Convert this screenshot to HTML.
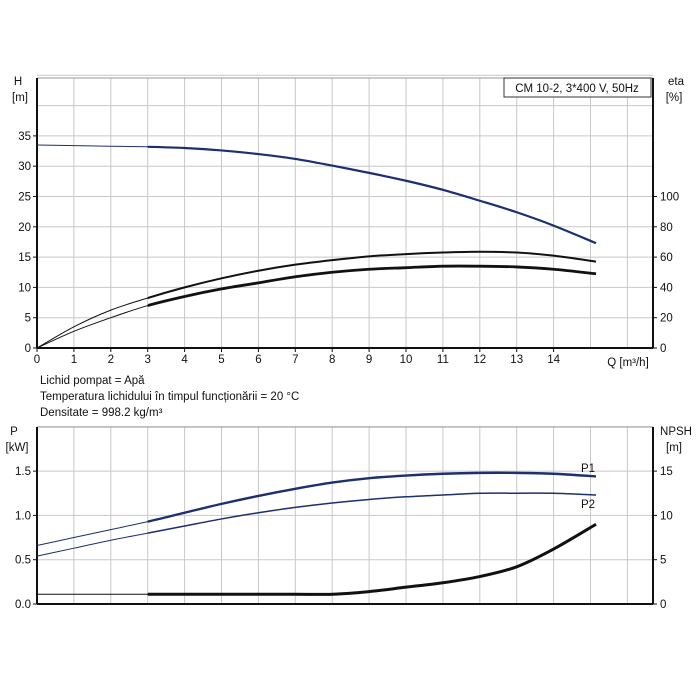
<!DOCTYPE html>
<html><head><meta charset="utf-8"><style>
body{margin:0;background:#fff;}
svg{display:block;font-family:"Liberation Sans",sans-serif;}
</style></head><body>
<svg id="chart" width="700" height="700">
<defs>
<clipPath id="clipLow"><rect x="0" y="0" width="148" height="700"/></clipPath>
<clipPath id="clipHigh"><rect x="147.7" y="0" width="560" height="700"/></clipPath>
</defs>
</svg>
<script>
// ---- data ----
const qTicks = [0,1,2,3,4,5,6,7,8,9,10,11,12,13,14];
const hTicks = [0,5,10,15,20,25,30,35];
const etaTicks = [0,20,40,60,80,100];
const pTicks = [0.0,0.5,1.0,1.5];
const npshTicks = [0,5,10,15];
const qPts = [0,1,2,3,4,5,6,7,8,9,10,11,12,13,14,15.15];
const headVals = [33.5,33.4,33.3,33.2,33.0,32.6,32.0,31.2,30.1,28.9,27.6,26.1,24.3,22.4,20.2,17.3];
const etaUpper = [0,14,25,33,40,46,51,55,58,60.5,62,63,63.5,63,61,57];
const etaLower = [0,11,20,28,34,39,43,47,50,52,53,54,54,53.5,52,49];
const p1Vals = [0.66,0.75,0.84,0.93,1.03,1.13,1.22,1.30,1.37,1.42,1.45,1.47,1.48,1.48,1.47,1.44];
const p2Vals = [0.54,0.63,0.72,0.80,0.88,0.96,1.03,1.09,1.14,1.18,1.21,1.23,1.25,1.25,1.25,1.23];
const npshVals = [1.1,1.1,1.1,1.1,1.1,1.1,1.1,1.1,1.1,1.4,1.9,2.4,3.1,4.2,6.2,9.0];

const NS='http://www.w3.org/2000/svg';
const svg=document.getElementById('chart');
const L=37,R=653,QU=36.9;
const xQ=q=>L+q*QU;
const T1=78,B1=348,yH=h=>B1-h*6.06,yEta=e=>B1-e*1.515;
const T2=427,B2=604,yP=p=>B2-p*88.6,yN=n=>B2-n*8.86;

function el(tag,attrs,parent){const e=document.createElementNS(NS,tag);for(const k in attrs)e.setAttribute(k,attrs[k]);(parent||svg).appendChild(e);return e;}
function txt(x,y,s,anchor,size){const t=el('text',{x:x,y:y,'font-size':size||11.5,'text-anchor':anchor||'start',fill:'#111'});t.textContent=s;return t;}
function pathD(xs,ys){
  const P=xs.map((x,i)=>[x,ys[i]]);
  let d='M'+P[0][0]+','+P[0][1];
  for(let i=0;i<P.length-1;i++){const p0=P[i-1]||P[i],p1=P[i],p2=P[i+1],p3=P[i+2]||P[i+1];
    const c1=[p1[0]+(p2[0]-p0[0])/6,p1[1]+(p2[1]-p0[1])/6],c2=[p2[0]-(p3[0]-p1[0])/6,p2[1]-(p3[1]-p1[1])/6];
    d+=' C'+c1+' '+c2+' '+p2;}
  return d;}
function curve(name,vals,yf,color,w0,w1){
  const d=pathD(qPts.map(xQ),vals.map(yf));
  let e=el('path',{d:d,fill:'none',stroke:color,'stroke-width':w0,'clip-path':'url(#clipLow)'});
  
  
  e=el('path',{d:d,fill:'none',stroke:color,'stroke-width':w1,'clip-path':'url(#clipHigh)'});
  
  
}
function grid(T,B,rows){
  for(let q=1;q*QU+L<R-2;q++)el('line',{x1:xQ(q),x2:xQ(q),y1:T,y2:B,stroke:'#c8c8c8','stroke-width':1});
  rows.forEach(y=>el('line',{x1:L,x2:R,y1:y,y2:y,stroke:'#c8c8c8','stroke-width':1}));
  el('line',{x1:L,x2:R,y1:T,y2:T,stroke:'#999','stroke-width':1});
  el('line',{x1:L,x2:L,y1:T,y2:B,stroke:'#111','stroke-width':2});
  el('line',{x1:R,x2:R,y1:T,y2:B,stroke:'#111','stroke-width':2});
  el('line',{x1:L,x2:R,y1:B,y2:B,stroke:'#111','stroke-width':2});
}
// top chart
const rows1=[];for(let h=5;h<=45;h+=5)rows1.push(yH(h));
grid(T1,B1,rows1);
hTicks.forEach(h=>{el('line',{x1:L-4,x2:L,y1:yH(h),y2:yH(h),stroke:'#111'});const t=txt(L-6,yH(h)+4,String(h),'end');});
etaTicks.forEach(e=>{el('line',{x1:R,x2:R+4,y1:yEta(e),y2:yEta(e),stroke:'#111'});const t=txt(R+7,yEta(e)+4,String(e));});
qTicks.forEach(q=>{el('line',{x1:xQ(q),x2:xQ(q),y1:B1,y2:B1+4,stroke:'#111'});const t=txt(xQ(q),B1+15,String(q),'middle');});
txt(18,85,'H','middle');txt(20,101,'[m]','middle');
txt(676,85,'eta','middle');txt(674,101,'[%]','middle');
txt(628,366,'Q [m³/h]','middle');
el('rect',{x:504,y:78,width:147,height:19,fill:'#fff',stroke:'#333','stroke-width':1,});
txt(577,92,'CM 10-2, 3*400 V, 50Hz','middle');
curve('head-curve',headVals,yH,'#1c2f6e',1,2.2);
curve('eta-upper-curve',etaUpper,yEta,'#111',1,2);
curve('eta-lower-curve',etaLower,yEta,'#111',1,2.8);
txt(40,384,'Lichid pompat = Apă');
txt(40,400,'Temperatura lichidului în timpul funcționării = 20 °C');
txt(40,416,'Densitate = 998.2 kg/m³');
// bottom chart
const rows2=[];for(let p=0.5;p<=2.01;p+=0.5)rows2.push(yP(p));
grid(T2,B2,rows2);
pTicks.forEach(p=>{el('line',{x1:L-4,x2:L,y1:yP(p),y2:yP(p),stroke:'#111'});const t=txt(L-6,yP(p)+4,p.toFixed(1),'end');});
npshTicks.forEach(n=>{el('line',{x1:R,x2:R+4,y1:yN(n),y2:yN(n),stroke:'#111'});const t=txt(R+7,yN(n)+4,String(n));});
txt(14,435,'P','middle');txt(17,451,'[kW]','middle');
txt(676,435,'NPSH','middle');txt(674,451,'[m]','middle');
curve('p1-curve',p1Vals,yP,'#1c2f6e',1,2.4);
curve('p2-curve',p2Vals,yP,'#1c2f6e',1,1.5);
curve('npsh-curve',npshVals,yN,'#111',1,3);
txt(588,472,'P1','middle');txt(588,508,'P2','middle');
</script>
</body></html>
